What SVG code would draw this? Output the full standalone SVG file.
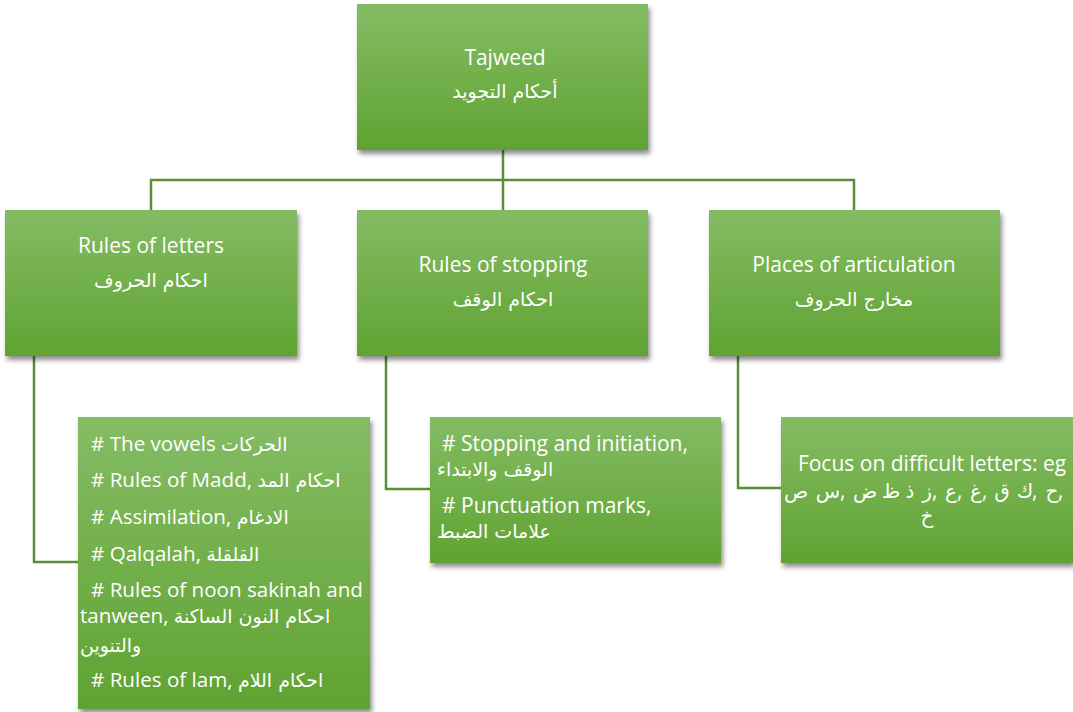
<svg xmlns="http://www.w3.org/2000/svg" width="1073" height="712" viewBox="0 0 1073 712">
<defs>
<linearGradient id="g" x1="0" y1="0" x2="0" y2="1">
<stop offset="0" stop-color="#84bc64"/>
<stop offset="1" stop-color="#60a332"/>
</linearGradient>
<filter id="sh" x="-10%" y="-10%" width="125%" height="130%">
<feDropShadow dx="2" dy="4" stdDeviation="2.5" flood-color="#000" flood-opacity="0.45"/>
</filter>
</defs>
<style>
.box{fill:url(#g);filter:url(#sh);}
.t{font-family:"Open Sans","DejaVu Sans",sans-serif;font-size:21px;fill:#ffffff;}
.s{font-size:20.6px;}
.c{text-anchor:middle;}
.ar{font-family:"DejaVu Sans","Open Sans",sans-serif;font-size:19px;}
.l{font-family:"DejaVu Sans","Open Sans",sans-serif;font-size:20px;fill:#ffffff;text-anchor:middle;}
.ln{fill:none;stroke:#5a8f38;stroke-width:2.5;}
</style>
<rect width="1073" height="712" fill="#ffffff"/>
<g id="connectors">
<path class="ln" d="M503 150 V180 M151 210 V180 H854 V210 M503 180 V210"/>
<path class="ln" d="M34 356 V562 H78"/>
<path class="ln" d="M386 356 V489 H430"/>
<path class="ln" d="M738 356 V488 H781"/>
</g>
<g id="tajweed">
<rect class="box" x="357" y="4" width="291" height="146"/>
<text class="t c" x="505" y="65">Tajweed</text>
<text class="t c ar" x="505" y="98">أحكام التجويد</text>
</g>
<g id="letters">
<rect class="box" x="5" y="210" width="292" height="146"/>
<text class="t c" x="151" y="253">Rules of letters</text>
<text class="t c ar" x="151" y="287">احكام الحروف</text>
</g>
<g id="stopping">
<rect class="box" x="357" y="210" width="291" height="146"/>
<text class="t c" x="503" y="272">Rules of stopping</text>
<text class="t c ar" x="503" y="306">احكام الوقف</text>
</g>
<g id="articulation">
<rect class="box" x="709" y="210" width="291" height="146"/>
<text class="t c" x="854" y="272">Places of articulation</text>
<text class="t c ar" x="854" y="306">مخارج الحروف</text>
</g>
<g id="letters-detail">
<rect class="box" x="78" y="417" width="292" height="292"/>
<text class="t s" x="91" y="451"># The vowels <tspan class="ar">الحركات</tspan></text>
<text class="t s" x="91" y="487"># Rules of Madd, <tspan class="ar">احكام المد</tspan></text>
<text class="t s" x="91" y="524"># Assimilation, <tspan class="ar">الادغام</tspan></text>
<text class="t s" x="91" y="561"># Qalqalah, <tspan class="ar">القلقلة</tspan></text>
<text class="t s" x="91" y="597"># Rules of noon sakinah and</text>
<text class="t s" x="80" y="623">tanween,  <tspan class="ar">احكام النون الساكنة</tspan></text>
<text class="t ar" x="80" y="652">والتنوين</text>
<text class="t s" x="91" y="687"># Rules of lam, <tspan class="ar">احكام اللام</tspan></text>
</g>
<g id="stopping-detail">
<rect class="box" x="430" y="417" width="291" height="146"/>
<text class="t" x="442" y="451"># Stopping and initiation,</text>
<text class="t ar" x="437" y="476">الوقف والابتداء</text>
<text class="t" x="442" y="513">#  Punctuation marks,</text>
<text class="t ar" x="437" y="538">علامات الضبط</text>
</g>
<g id="articulation-detail">
<rect class="box" x="781" y="417" width="292" height="146"/>
<text class="t c" x="932" y="471">Focus on difficult letters: eg</text>
<text class="l" x="796" y="498">ص</text>
<text class="l" x="828" y="498">س</text>
<text class="t" x="840" y="498">,</text>
<text class="l" x="865" y="498">ض</text>
<text class="l" x="891" y="498">ظ</text>
<text class="l" x="910" y="498">ذ</text>
<text class="l" x="927" y="498">ز</text>
<text class="t" x="932" y="498">,</text>
<text class="l" x="951" y="498">ع</text>
<text class="t" x="957" y="498">,</text>
<text class="l" x="976" y="498">غ</text>
<text class="t" x="982" y="498">,</text>
<text class="l" x="1002" y="498">ق</text>
<text class="l" x="1025" y="498">ك</text>
<text class="t" x="1032" y="498">,</text>
<text class="l" x="1052" y="498">ح</text>
<text class="t" x="1058" y="498">,</text>
<text class="l" x="927" y="523">خ</text>
</g>
</svg>
